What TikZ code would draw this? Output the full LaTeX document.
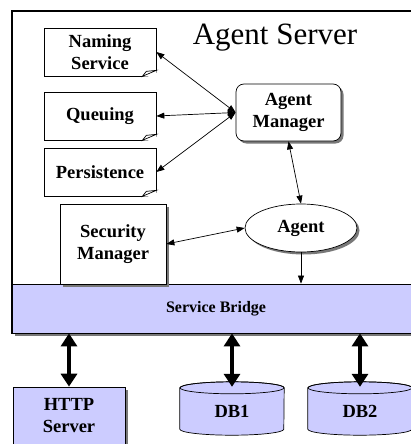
\documentclass[tikz,border=0pt]{standalone}
\usepackage{fontspec}
\setmainfont{Liberation Serif}
\usepackage{tikz}
\usetikzlibrary{arrows,arrows.meta,shapes,shadows,positioning}
\usepackage{xcolor}
\definecolor{aslavender}{RGB}{204,204,255}
\definecolor{asshadow}{RGB}{120,120,120}
\tikzstyle{svcbox} = [rectangle, minimum width=112pt, minimum height=48pt, text centered, draw=black, fill=white, line width=0.7pt, font=\fontsize{18.5}{22}\selectfont\bfseries, align=center]
\tikzstyle{shadowed} = [drop shadow={shadow xshift=2.5pt, shadow yshift=-2.5pt, fill=asshadow, opacity=1}]
\tikzstyle{mgrbox} = [rectangle, text centered, draw=black, fill=white, line width=0.7pt, font=\fontsize{18.5}{22}\selectfont\bfseries, align=center, shadowed]
\tikzstyle{dbase} = [rectangle, minimum width=104pt, minimum height=53pt]
\tikzstyle{dblabel} = [font=\fontsize{18.5}{22}\selectfont\bfseries]
\tikzstyle{arrow} = [line width=0.7pt, <->, >={Triangle[length=8pt,width=6pt]}]
\tikzstyle{bigarrow} = [line width=4.5pt, {Triangle[width=16pt,length=13pt]}-{Triangle[width=16pt,length=13pt]}]
\newcommand{\dogear}[1]{%
  \fill[white] ([xshift=-14pt]#1.south east) -- ([xshift=1pt,yshift=-1pt]#1.south east) -- ([yshift=6pt]#1.south east) -- cycle;
  \draw[line width=0.7pt] ([xshift=-14pt]#1.south east) -- ([yshift=6pt]#1.south east) -- ([xshift=-10pt,yshift=5pt]#1.south east) -- cycle;}
\newcommand{\drum}[1]{%
  \filldraw[fill=aslavender, line width=0.7pt] ([yshift=-6pt]#1.north west) -- ([yshift=6pt]#1.south west)
    arc[start angle=180, end angle=360, x radius=52pt, y radius=6pt] -- ([yshift=-6pt]#1.north east)
    arc[start angle=0, end angle=180, x radius=52pt, y radius=6pt] -- cycle;
  \draw[line width=0.7pt] ([yshift=-6pt]#1.north) ellipse[x radius=52pt, y radius=6pt];}

\begin{document}
\begin{tikzpicture}[x=1pt, y=-1pt]
\useasboundingbox (0,0) rectangle (411,444);
\clip (0,0) rectangle (411,444);
% server frame
\draw[line width=1.2pt, fill=white, shadowed] (12,11) rectangle (420,333);
\node (bridge) [rectangle, draw=black, fill=aslavender, line width=0.8pt, minimum width=408pt, minimum height=49pt, font=\fontsize{16}{18}\selectfont\bfseries] at (216,308.5) {Service Bridge};
\node (title) [font=\fontsize{31}{34}\selectfont] at (275,38) {Agent Server};

% services
\node (naming) [svcbox] at (100,52) {Naming\\Service};
\node (queuing) [svcbox] at (100,116) {Queuing};
\node (persist) [svcbox] at (100,172) {Persistence};
\dogear{naming}
\dogear{queuing}
\dogear{persist}

\node (manager) [mgrbox, rounded corners=8pt, minimum width=105pt, minimum height=57pt] at (288.5,112.5) {Agent\\Manager};
\node (security) [mgrbox, minimum width=106pt, minimum height=80pt] at (113,244) {Security\\Manager};
\node (agent) [mgrbox, ellipse, minimum width=112pt, minimum height=48pt] at (301,228) {Agent};

\draw[arrow] (manager.west) -- (naming.east);
\draw[arrow] (manager.west) -- (queuing.east);
\draw[arrow] (manager.west) -- (persist.east);
\draw[arrow] (manager.south) -- (agent.north);
\draw[arrow] (security.east) -- (agent.west);
\draw[arrow, <-] (agent.south |- bridge.north) -- (agent.south);

% outside
\node (http) [mgrbox, fill=aslavender, minimum width=112pt, minimum height=58pt] at (69,416) {HTTP\\Server};
\node (db1) [dbase] at (232,408.5) {};
\node (db2) [dbase] at (360,408.5) {};
\drum{db1}
\drum{db2}
\node (db1text) [dblabel] at ([yshift=-3pt]db1.center) {DB1};
\node (db2text) [dblabel] at ([yshift=-3pt]db2.center) {DB2};

\draw[bigarrow] (bridge.south -| http.north) -- (http.north);
\draw[bigarrow] (bridge.south -| db1.north) -- ([yshift=-5pt]db1.north);
\draw[bigarrow] (bridge.south -| db2.north) -- ([yshift=-5pt]db2.north);
\end{tikzpicture}
\end{document}
